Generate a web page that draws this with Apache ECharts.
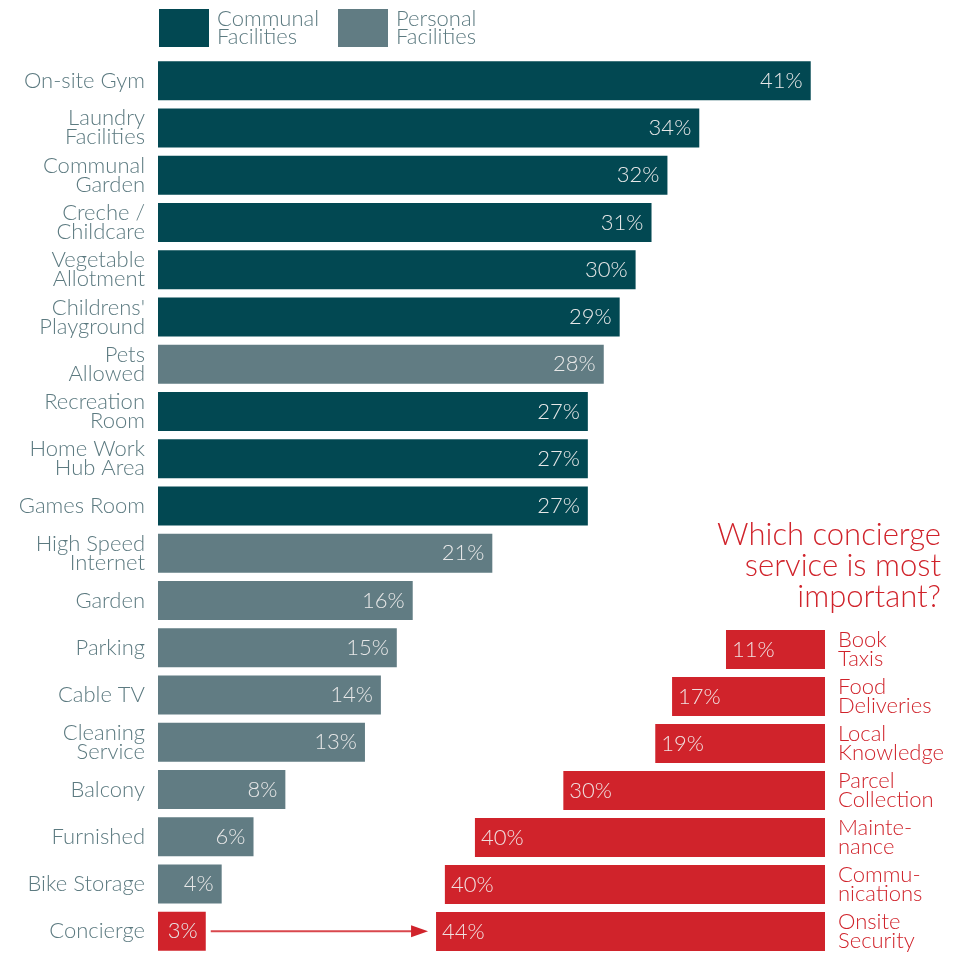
<!DOCTYPE html>
<html>
<head>
<meta charset="utf-8">
<script src="https://cdn.jsdelivr.net/npm/echarts@6/dist/echarts.min.js"></script>
<style>
html,body{margin:0;padding:0;background:#fff;}
#chart{width:962px;height:955px;}
</style>
</head>
<body>
<div id="chart"></div>
<script>
// ---- data ----
var categories = ["On-site Gym","Laundry\nFacilities","Communal\nGarden","Creche /\nChildcare","Vegetable\nAllotment","Childrens'\nPlayground","Pets\nAllowed","Recreation\nRoom","Home Work\nHub Area","Games Room","High Speed\nInternet","Garden","Parking","Cable TV","Cleaning\nService","Balcony","Furnished","Bike Storage","Concierge"];
var values = [41,34,32,31,30,29,28,27,27,27,21,16,15,14,13,8,6,4,3];
var types = ["C","C","C","C","C","C","P","C","C","C","P","P","P","P","P","P","P","P","X"];

var conciergeCategories = ["Book\nTaxis","Food\nDeliveries","Local\nKnowledge","Parcel\nCollection","Mainte-\nnance","Commu-\nnications","Onsite\nSecurity"];
var conciergeValues = [11.2,17.3,19.2,29.6,39.6,43.0,44];
var conciergeLabels = ["11%","17%","19%","30%","40%","40%","44%"];

var seriesNames = {C:"Communal Facilities", P:"Personal Facilities", X:"Concierge"};
var titleText = "Which concierge\nservice is most\nimportant?";

// ---- style ----
var FONT = "Lato";
var COL_C = "#024852", COL_P = "#617c83", COL_R = "#d0232b", COL_TXT = "#5c7a80";

function pick(t){ return values.map(function(v,i){ return types[i]===t ? v : '-'; }); }

var barLabel = {show:true, position:'insideRight', distance:8, color:'#e8e8e8', fontFamily:FONT, fontWeight:300, fontSize:22, formatter:function(p){return p.value+'%';}};
var legendText = {color:COL_TXT, fontFamily:FONT, fontWeight:300, fontSize:22, lineHeight:18, padding:[0,0,0,3]};

var chart = echarts.init(document.getElementById('chart'));
var option = {
  animation:false,
  backgroundColor:'#fff',
  title:{text:titleText, left:941, top:519, textAlign:'right', padding:0,
    textStyle:{color:COL_R, fontFamily:FONT, fontWeight:300, fontSize:31, lineHeight:31}},
  legend:[
    {data:[seriesNames.C], left:159, top:8, padding:0, itemWidth:50, itemHeight:38, icon:'rect', selectedMode:false,
     formatter:function(n){return n.replace(' ','\n');}, textStyle:legendText},
    {data:[seriesNames.P], left:338, top:8, padding:0, itemWidth:50, itemHeight:38, icon:'rect', selectedMode:false,
     formatter:function(n){return n.replace(' ','\n');}, textStyle:legendText}
  ],
  grid:[
    {left:158, top:57, width:796, height:901},
    {left:383, top:57+12*901/19, width:442, height:7*901/19}
  ],
  xAxis:[
    {gridIndex:0, type:'value', min:0, max:50, show:false},
    {gridIndex:1, type:'value', min:0, max:50, inverse:true, show:false}
  ],
  yAxis:[
    {gridIndex:0, type:'category', data:categories, inverse:true,
     axisLine:{show:false}, axisTick:{show:false}, splitLine:{show:false},
     axisLabel:{margin:13, color:COL_TXT, fontFamily:FONT, fontWeight:300, fontSize:22, lineHeight:19, align:'right', padding:[3,0,0,0]}},
    {gridIndex:1, type:'category', data:conciergeCategories, inverse:true, position:'right',
     axisLine:{show:false}, axisTick:{show:false}, splitLine:{show:false},
     axisLabel:{margin:13, color:COL_R, fontFamily:FONT, fontWeight:300, fontSize:22, lineHeight:19, align:'left', padding:[3,0,0,0]}}
  ],
  series:[
    {name:seriesNames.C, type:'bar', stack:'m', xAxisIndex:0, yAxisIndex:0, data:pick('C'), barWidth:39, itemStyle:{color:COL_C}, label:barLabel},
    {name:seriesNames.P, type:'bar', stack:'m', xAxisIndex:0, yAxisIndex:0, data:pick('P'), barWidth:39, itemStyle:{color:COL_P}, label:barLabel},
    {name:seriesNames.X, type:'bar', stack:'m', xAxisIndex:0, yAxisIndex:0, data:pick('X'), barWidth:39, itemStyle:{color:COL_R}, label:barLabel},
    {name:'Concierge services', type:'bar', xAxisIndex:1, yAxisIndex:1, data:conciergeValues, barWidth:39, itemStyle:{color:COL_R},
     label:{show:true, position:'insideLeft', distance:6, color:'#f0e0e0', fontFamily:FONT, fontWeight:300, fontSize:22,
       formatter:function(p){return conciergeLabels[p.dataIndex];}}}
  ]
};
chart.setOption(option);

// arrow from the concierge bar to the concierge breakdown
var ci = values.length-1;
var p0 = chart.convertToPixel({gridIndex:0}, [values[ci], categories[ci]]);
var last = conciergeValues.length-1;
var p1 = chart.convertToPixel({gridIndex:1}, [conciergeValues[last], conciergeCategories[last]]);
var x0 = p0[0]+5, x1 = p1[0]-8, y = p0[1];
chart.setOption({graphic:[
  {type:'line', shape:{x1:x0, y1:y, x2:x1-14, y2:y}, style:{stroke:'#d9474d', lineWidth:2}},
  {type:'polygon', shape:{points:[[x1-17,y-6],[x1,y],[x1-17,y+6]]}, style:{fill:COL_R}}
]});
</script>
</body>
</html>
